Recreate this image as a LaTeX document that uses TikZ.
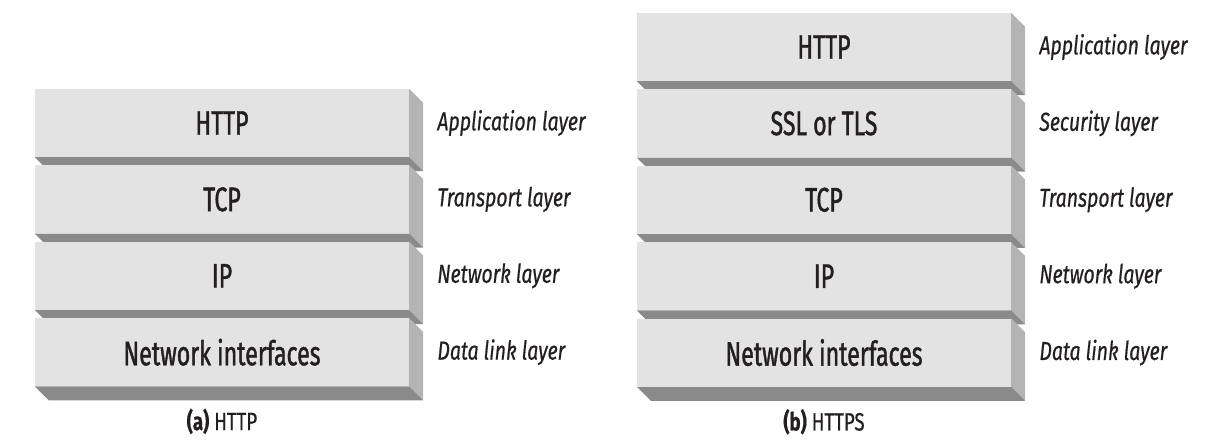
\documentclass[tikz,border=0pt]{standalone}
\usepackage{fontspec}
\setmainfont{Fira Sans}
\newfontfamily\layerfont{Fira Sans}[FakeStretch=0.68,FakeBold=1.2]
\newfontfamily\notefont{Fira Sans}[FakeStretch=0.75,FakeBold=0.6]
\usepackage{tikz}
\usetikzlibrary{positioning,backgrounds}

\definecolor{frontgray}{HTML}{E3E3E3}
\definecolor{sidegray}{HTML}{B4B4B4}
\definecolor{basegray}{HTML}{8A8A8A}
\definecolor{inkgray}{HTML}{231F20}

\begin{document}
\begin{tikzpicture}[x=1pt,y=-1pt,node distance=8pt and 28pt,text=inkgray]
  % Styles
  \tikzstyle{layer}=[fill=frontgray,minimum width=374pt,minimum height=68pt,inner sep=0pt,
    font=\layerfont\fontsize{34}{38}\selectfont]
  \tikzstyle{lab}=[inner sep=0pt,anchor=west,font=\notefont\itshape\fontsize{26}{30}\selectfont]
  \tikzstyle{figcap}=[inner sep=0pt,font=\notefont\fontsize{25}{30}\selectfont]

  \useasboundingbox (0,0) rectangle (1220,446);

  % (a) HTTP stack
  \node[layer] (ahttp) at (222,123) {HTTP};
  \node[layer,below=of ahttp] (atcp) {TCP};
  \node[layer,below=of atcp] (aip) {IP};
  \node[layer,below=of aip] (anet) {Network interfaces};

  \node[lab,right=of ahttp] (aapp) {Application layer};
  \node[lab,right=of atcp] (atrans) {Transport layer};
  \node[lab,right=of aip] (anetw) {Network layer};
  \node[lab,right=of anet] (alink) {Data link layer};

  % (b) HTTPS stack
  \node[layer] (bhttp) at (824,47) {HTTP};
  \node[layer,below=of bhttp] (bssl) {SSL or TLS};
  \node[layer,below=of bssl] (btcp) {TCP};
  \node[layer,below=of btcp] (bip) {IP};
  \node[layer,below=of bip] (bnet) {Network interfaces};

  \node[lab,right=of bhttp] (bapp) {Application layer};
  \node[lab,right=of bssl] (bsec) {Security layer};
  \node[lab,right=of btcp] (btrans) {Transport layer};
  \node[lab,right=of bip] (bnetw) {Network layer};
  \node[lab,right=of bnet] (blink) {Data link layer};

  % Captions
  \node[figcap,below=22pt of anet] (acap) {\textbf{(a)} HTTP};
  \node[figcap,below=22pt of bnet] (bcap) {\textbf{(b)} HTTPS};

  % Side and bottom faces
  \begin{scope}[on background layer]
    \foreach \n in {ahttp,atcp,aip,anet,bhttp,bssl,btcp,bip,bnet}{
      \fill[sidegray] (\n.north east) -- ++(14,14) -- ([shift={(14,14)}]\n.south east) -- (\n.south east) -- cycle;
      \fill[basegray] (\n.south west) -- (\n.south east) -- ++(14,14) -- ([shift={(14,14)}]\n.south west) -- cycle;
    }
  \end{scope}
\end{tikzpicture}
\end{document}
